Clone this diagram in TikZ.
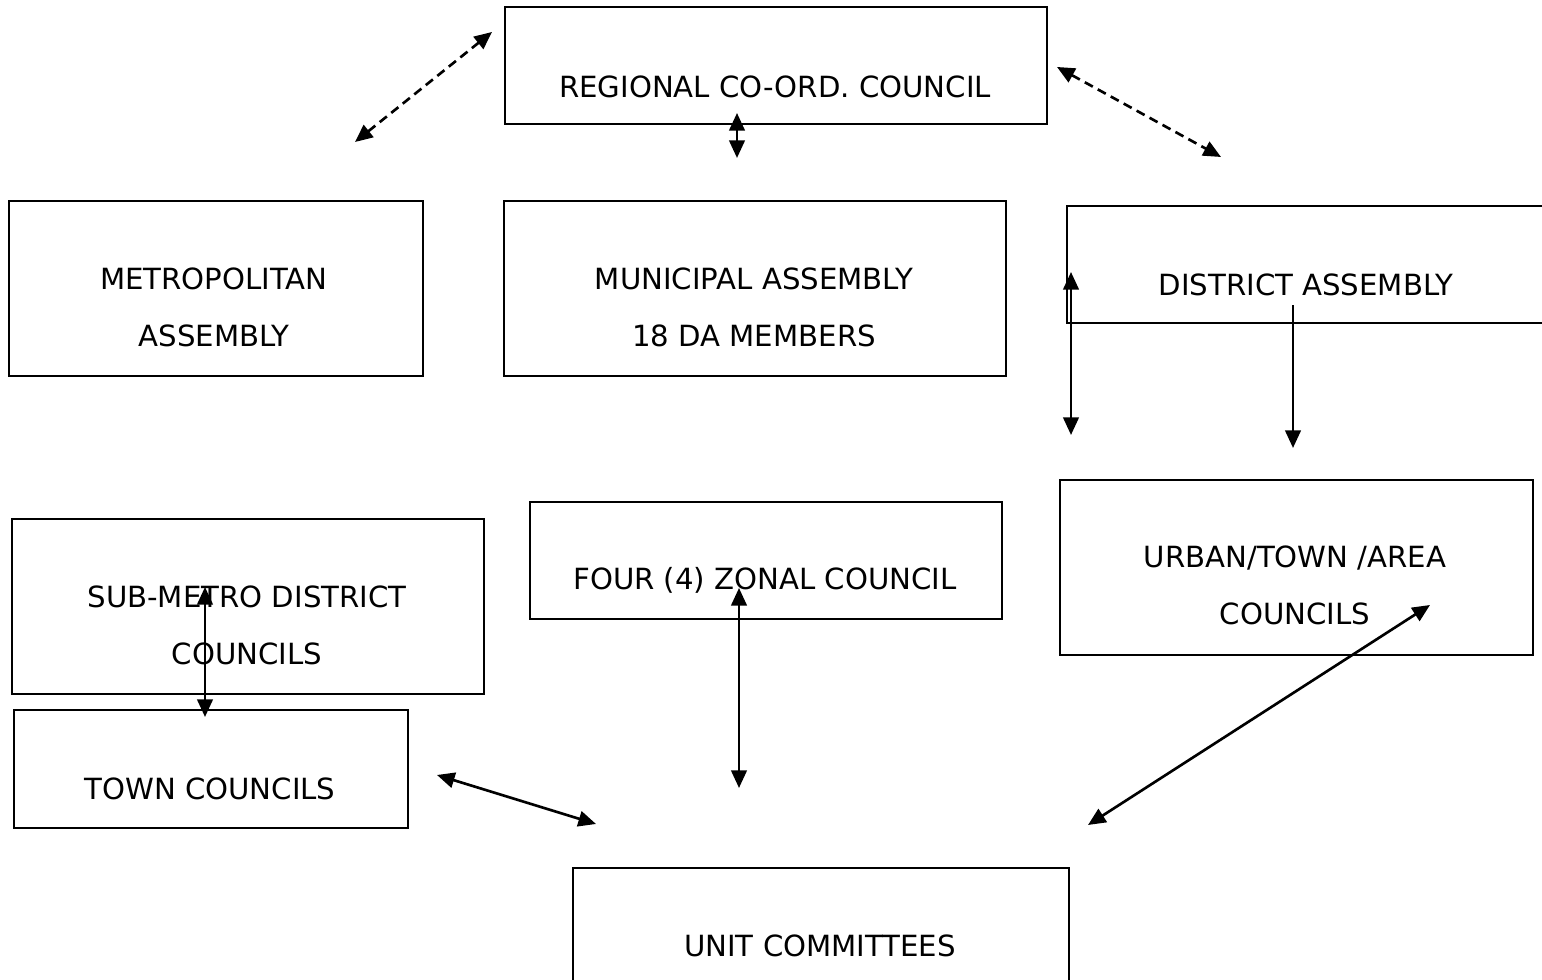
\documentclass[tikz,border=0pt]{standalone}
\usepackage{fontspec}
\setmainfont{DejaVu Sans}
\usetikzlibrary{arrows.meta}

\begin{document}
\begin{tikzpicture}[x=0.01cm,y=-0.01cm,
    box/.style={draw,line width=0.6pt,inner sep=0pt,anchor=north west},
    lbl/.style={anchor=base,align=center,inner sep=0pt,font=\fontsize{8.3}{16.3}\selectfont},
    link/.style={line width=0.75pt,{Triangle[length=5pt,width=4.4pt]}-{Triangle[length=5pt,width=4.4pt]}},
    dlink/.style={link,dash pattern=on 2.6pt off 1.6pt}]
    \useasboundingbox (0,0) rectangle (1542,980);
    % boxes
    \node[box,minimum width=5.42cm,minimum height=1.17cm] (rcc) at (504,6) {};
    \node[box,minimum width=4.14cm,minimum height=1.75cm] (ma) at (8,200) {};
    \node[box,minimum width=5.02cm,minimum height=1.75cm] (mua) at (503,200) {};
    \node[box,minimum width=5.00cm,minimum height=1.17cm] (da) at (1066,205) {};
    \node[box,minimum width=4.72cm,minimum height=1.75cm] (smdc) at (11,518) {};
    \node[box,minimum width=4.72cm,minimum height=1.17cm] (zc) at (529,501) {};
    \node[box,minimum width=4.73cm,minimum height=1.75cm] (utac) at (1059,479) {};
    \node[box,minimum width=3.94cm,minimum height=1.18cm] (tc) at (13,709) {};
    \node[box,minimum width=4.96cm,minimum height=1.30cm] (uc) at (572,867) {};
    % texts (base = last line)
    \node[lbl] (rcct) at (775,98) {REGIONAL CO-ORD. COUNCIL};
    \node[lbl] (mat) at (214,347) {METROPOLITAN\\ASSEMBLY};
    \node[lbl] (muat) at (754,347) {MUNICIPAL ASSEMBLY\\18 DA MEMBERS};
    \node[lbl] (dat) at (1306,296) {DISTRICT ASSEMBLY};
    \node[lbl] (smdct) at (247,665) {SUB-METRO DISTRICT\\COUNCILS};
    \node[lbl] (zct) at (765,590) {FOUR (4) ZONAL COUNCIL};
    \node[lbl] (utact) at (1295,625) {URBAN/TOWN /AREA\\COUNCILS};
    \node[lbl] (tct) at (210,800) {TOWN COUNCILS};
    \node[lbl] (uct) at (820,957) {UNIT COMMITTEES};
    % arrow ends
    \coordinate (a1) at (355,142);
    \coordinate (a2) at (492,32);
    \coordinate (b1) at (737,113);
    \coordinate (b2) at (737,158);
    \coordinate (c1) at (1057,67);
    \coordinate (c2) at (1221,157);
    \coordinate (d1) at (1071,272);
    \coordinate (d2) at (1071,435);
    \coordinate (e1) at (1293,305);
    \coordinate (e2) at (1293,448);
    \coordinate (f1) at (205,587);
    \coordinate (f2) at (205,717);
    \coordinate (g1) at (739,588);
    \coordinate (g2) at (739,788);
    \coordinate (h1) at (437,775);
    \coordinate (h2) at (596,824);
    \coordinate (k1) at (1430,605);
    \coordinate (k2) at (1088,825);
    % connectors
    \draw[dlink] (a1)--(a2);
    \draw[link] (b1)--(b2);
    \draw[dlink] (c1)--(c2);
    \draw[link] (d1)--(d2);
    \draw[link,{Triangle[length=5pt,width=4.4pt]}-] (e2)--(e1);
    \draw[link] (f1)--(f2);
    \draw[link] (g1)--(g2);
    \draw[link] (h1)--(h2);
    \draw[link] (k1)--(k2);
\end{tikzpicture}
\end{document}
